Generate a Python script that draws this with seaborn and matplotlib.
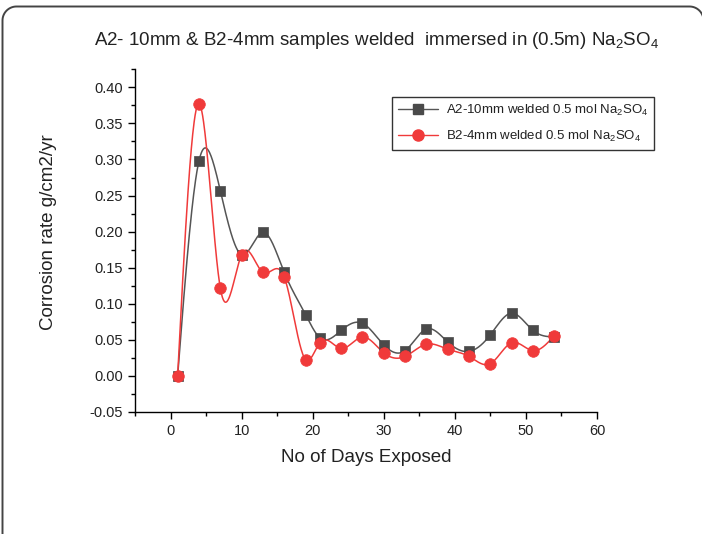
import numpy as np
import pandas as pd
import matplotlib
matplotlib.use("Agg")
import matplotlib.pyplot as plt
import seaborn as sns
from matplotlib.ticker import MultipleLocator
from matplotlib.lines import Line2D

days = [1, 4, 7, 10, 13, 16, 19, 21, 24, 27, 30, 33, 36, 39, 42, 45, 48, 51, 54]
a2_rate = [0.0, 0.298, 0.257, 0.168, 0.199, 0.1435, 0.085, 0.053, 0.063, 0.073,
           0.043, 0.035, 0.065, 0.047, 0.034, 0.057, 0.087, 0.063, 0.054]
b2_rate = [0.0, 0.3775, 0.122, 0.168, 0.1435, 0.137, 0.0226, 0.046, 0.038, 0.054,
           0.032, 0.027, 0.044, 0.037, 0.027, 0.017, 0.046, 0.035, 0.056]
a2_label = "A2-10mm welded 0.5 mol Na$_2$SO$_4$"
b2_label = "B2-4mm welded 0.5 mol Na$_2$SO$_4$"
title = "A2- 10mm & B2-4mm samples welded  immersed in (0.5m) Na$_2$SO$_4$"
x_ticks = [0, 10, 20, 30, 40, 50, 60]
y_ticks = [-0.05, 0.0, 0.05, 0.10, 0.15, 0.20, 0.25, 0.30, 0.35, 0.40]

sns.set_style("white")
plt.rcParams['font.family'] = ['Liberation Sans', 'DejaVu Sans']
plt.rcParams['mathtext.fontset'] = 'custom'
plt.rcParams['mathtext.rm'] = 'Liberation Sans'
plt.rcParams['mathtext.it'] = 'Liberation Sans:italic'
plt.rcParams['mathtext.bf'] = 'Liberation Sans:bold'


def natural_spline(x, y, xs):
    x = np.asarray(x, float); y = np.asarray(y, float)
    n = len(x)
    h = np.diff(x)
    A = np.zeros((n, n)); r = np.zeros(n)
    A[0, 0] = 1; A[-1, -1] = 1
    for i in range(1, n - 1):
        A[i, i - 1] = h[i - 1]
        A[i, i] = 2 * (h[i - 1] + h[i])
        A[i, i + 1] = h[i]
        r[i] = 6 * ((y[i + 1] - y[i]) / h[i] - (y[i] - y[i - 1]) / h[i - 1])
    M = np.linalg.solve(A, r)
    idx = np.clip(np.searchsorted(x, xs) - 1, 0, n - 2)
    x0 = x[idx]; x1 = x[idx + 1]; hh = x1 - x0
    t0 = x1 - xs; t1 = xs - x0
    return (M[idx] * t0 ** 3 / (6 * hh) + M[idx + 1] * t1 ** 3 / (6 * hh)
            + (y[idx] / hh - M[idx] * hh / 6) * t0
            + (y[idx + 1] / hh - M[idx + 1] * hh / 6) * t1)


W, H = 702, 534
fig = plt.figure(figsize=(W / 100, H / 100), dpi=100)
ax = fig.add_axes([0.1923, 0.2285, 0.8504 - 0.1923, 0.8702 - 0.2285])

xs = np.linspace(days[0], days[-1], 800)
col_a = "#4a4a4a"
col_b = "#f03a3a"

smooth = pd.DataFrame({"x": xs, "A2": natural_spline(days, a2_rate, xs),
                       "B2": natural_spline(days, b2_rate, xs)})
pts = pd.DataFrame({"x": days, "A2": a2_rate, "B2": b2_rate})

sns.lineplot(data=smooth, x="x", y="A2", ax=ax, color="#555555", lw=1.1, legend=False)
sns.lineplot(data=smooth, x="x", y="B2", ax=ax, color=col_b, lw=1.1, legend=False)
sns.scatterplot(data=pts, x="x", y="A2", ax=ax, marker="s", s=55, color=col_a,
                edgecolor=col_a, linewidth=0.5, zorder=3, legend=False)
sns.scatterplot(data=pts, x="x", y="B2", ax=ax, marker="o", s=70, color=col_b,
                edgecolor=col_b, linewidth=0.5, zorder=4, legend=False)

ax.set_xlim(-5, 60)
ax.set_ylim(-0.05, 0.425)
ax.set_xticks(x_ticks)
ax.set_yticks(y_ticks)
ax.set_yticklabels([f"{v:.2f}" for v in y_ticks])
ax.xaxis.set_minor_locator(MultipleLocator(5))
ax.yaxis.set_minor_locator(MultipleLocator(0.025))
ax.tick_params(which="major", direction="out", length=5, width=1, labelsize=10.5,
               color="black", labelcolor="#222222", left=True, bottom=True)
ax.tick_params(which="minor", direction="out", length=3, width=1, color="black",
               left=True, bottom=True)
for s in ["top", "right"]:
    ax.spines[s].set_visible(False)
for s in ["left", "bottom"]:
    ax.spines[s].set_color("black")
    ax.spines[s].set_linewidth(1)

ax.set_xlabel("No of Days Exposed", fontsize=13.5, color="#222222", labelpad=8)
ax.set_ylabel("Corrosion rate g/cm2/yr", fontsize=13.5, color="#222222")
ax.yaxis.set_label_coords(-0.168, 0.525)

fig.text(0.537, 0.925, title, ha="center", va="center", fontsize=13.5, color="#222222")

h1 = Line2D([], [], color="#555555", lw=1, marker="s", markersize=7,
            markerfacecolor=col_a, markeredgecolor=col_a)
h2 = Line2D([], [], color=col_b, lw=1, marker="o", markersize=8,
            markerfacecolor=col_b, markeredgecolor=col_b)
leg = fig.legend([h1, h2], [a2_label, b2_label], loc="upper left",
                 bbox_to_anchor=(0.559, 0.8184), fontsize=9.5, frameon=True,
                 fancybox=False, handlelength=3.0, handletextpad=0.6,
                 borderpad=0.45, labelspacing=0.8, borderaxespad=0)
leg.get_frame().set_edgecolor("black")
leg.get_frame().set_linewidth(1)
for t in leg.get_texts():
    t.set_color("#222222")

# rounded page frame (left, top and top-right corner visible)
r = 14.0
xl, yt, xr = 2.5, 6.5, 703.5
ang1 = np.linspace(np.pi, np.pi / 2, 20)
ang2 = np.linspace(np.pi / 2, 0, 20)
px = np.concatenate([[xl], xl + r + r * np.cos(ang1), xr - r + r * np.cos(ang2), [xr]])
py = np.concatenate([[H + 5], yt + r - r * np.sin(ang1), yt + r - r * np.sin(ang2), [H + 5]])
frame = Line2D(px / W, 1 - py / H, transform=fig.transFigure, color="#444444",
               lw=1.4, solid_joinstyle="round")
fig.lines.append(frame)

fig.savefig("out.png", dpi=100)
